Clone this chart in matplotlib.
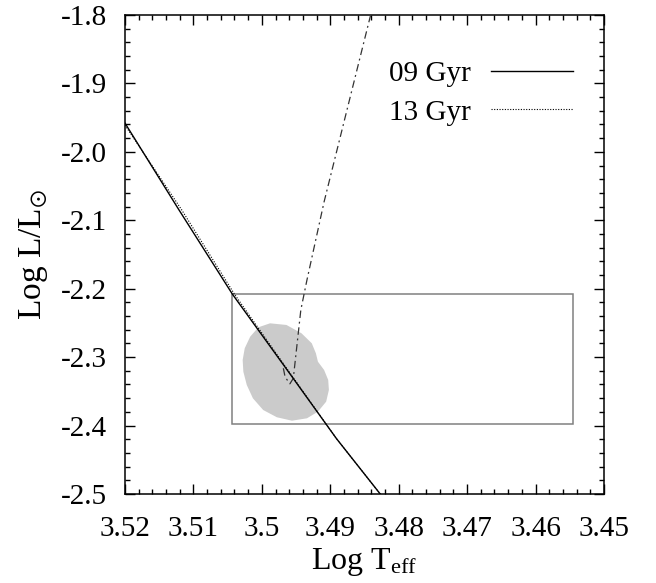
import matplotlib
matplotlib.use("Agg")
import matplotlib.pyplot as plt
from matplotlib.patches import Rectangle
from matplotlib.ticker import MultipleLocator

plt.rcParams['font.family'] = ['Liberation Serif', 'DejaVu Serif']
plt.rcParams['mathtext.fontset'] = 'custom'
plt.rcParams['mathtext.rm'] = 'Liberation Serif'
plt.rcParams['mathtext.it'] = 'Liberation Serif:italic'
plt.rcParams['mathtext.fallback'] = 'stix'

# isochrones (log Teff, log L/Lsun)
iso09_teff = [3.5200, 3.5121, 3.5043, 3.4965, 3.4891, 3.4827]
iso09_lum = [-1.958, -2.085, -2.208, -2.316, -2.419, -2.500]
iso13_teff = [3.5200, 3.5117, 3.5040, 3.4964, 3.4891, 3.4827]
iso13_lum = [-1.961, -2.085, -2.208, -2.316, -2.419, -2.500]

# dash-dot track
track_teff = [3.4841, 3.4909, 3.4934, 3.4943, 3.4954, 3.4959, 3.4966, 3.4969]
track_lum = [-1.800, -2.073, -2.187, -2.231, -2.331, -2.339, -2.329, -2.314]

# grey error region outline
blob_teff = [3.4988, 3.4964, 3.4942, 3.4927, 3.4921, 3.4918, 3.4909, 3.4903,
             3.4902, 3.4906, 3.4918, 3.4934, 3.4956, 3.4978, 3.4998, 3.5013,
             3.5022, 3.5027, 3.5028, 3.5025, 3.5017, 3.5005]
blob_lum = [-2.2506, -2.2530, -2.2652, -2.2798, -2.2944, -2.3067, -2.3188, -2.3334,
            -2.3480, -2.3651, -2.3797, -2.3894, -2.3929, -2.3879, -2.3773, -2.3602,
            -2.3407, -2.3213, -2.3042, -2.2871, -2.2701, -2.2564]

# observational box
box_teff = [3.5043, 3.4545]
box_lum = [-2.398, -2.208]

xticks = [3.52, 3.51, 3.50, 3.49, 3.48, 3.47, 3.46, 3.45]
xticklabels = ['3.52', '3.51', '3.5', '3.49', '3.48', '3.47', '3.46', '3.45']
yticks = [-1.8, -1.9, -2.0, -2.1, -2.2, -2.3, -2.4, -2.5]
yticklabels = ['-1.8', '-1.9', '-2.0', '-2.1', '-2.2', '-2.3', '-2.4', '-2.5']

fig = plt.figure(figsize=(6.56, 5.83), dpi=100)
ax = fig.add_axes([0.1905, 0.1527, 0.7302, 0.8216])

ax.fill(blob_teff, blob_lum, color='#cbcbcb', lw=0, zorder=1)
ax.add_patch(Rectangle((box_teff[0], box_lum[0]), box_teff[1] - box_teff[0],
                       box_lum[1] - box_lum[0], fill=False, ec='#808080', lw=1.1, zorder=2))

ax.plot(iso09_teff, iso09_lum, color='black', lw=1.0, label='09 Gyr', zorder=4)
ax.plot(iso13_teff, iso13_lum, color='black', lw=0.8, ls=(0, (1, 1.4)), label='13 Gyr', zorder=3)
tr, = ax.plot(track_teff, track_lum, color='#333333', lw=0.9, zorder=3)
tr.set_dashes([6, 3, 1.5, 3])

ax.set_xlim(3.52, 3.45)
ax.set_ylim(-2.5, -1.8)
ax.set_xticks(xticks)
ax.set_xticklabels(xticklabels)
ax.set_yticks(yticks)
ax.set_yticklabels(yticklabels)
ax.xaxis.set_minor_locator(MultipleLocator(0.002))
ax.yaxis.set_minor_locator(MultipleLocator(0.02))
ax.tick_params(which='both', direction='in', top=True, right=True, labelsize=21, width=1.0)
ax.tick_params(which='major', length=7.5)
ax.tick_params(which='minor', length=3.5)
ax.tick_params(axis='y', pad=13)
ax.tick_params(axis='x', pad=16)
for sp in ax.spines.values():
    sp.set_linewidth(1.1)

ax.set_xlabel(r'Log T$_{\mathrm{eff}}$', fontsize=23, labelpad=3)
ax.set_ylabel(r'Log L/L$_{\odot}$', fontsize=24, labelpad=8)

ax.legend(loc='upper right', bbox_to_anchor=(0.935, 0.905), frameon=False,
          markerfirst=False, fontsize=21, handlelength=2.8, handletextpad=0.7,
          labelspacing=0.42, borderpad=0, borderaxespad=0)

fig.savefig('out.png', dpi=100)
